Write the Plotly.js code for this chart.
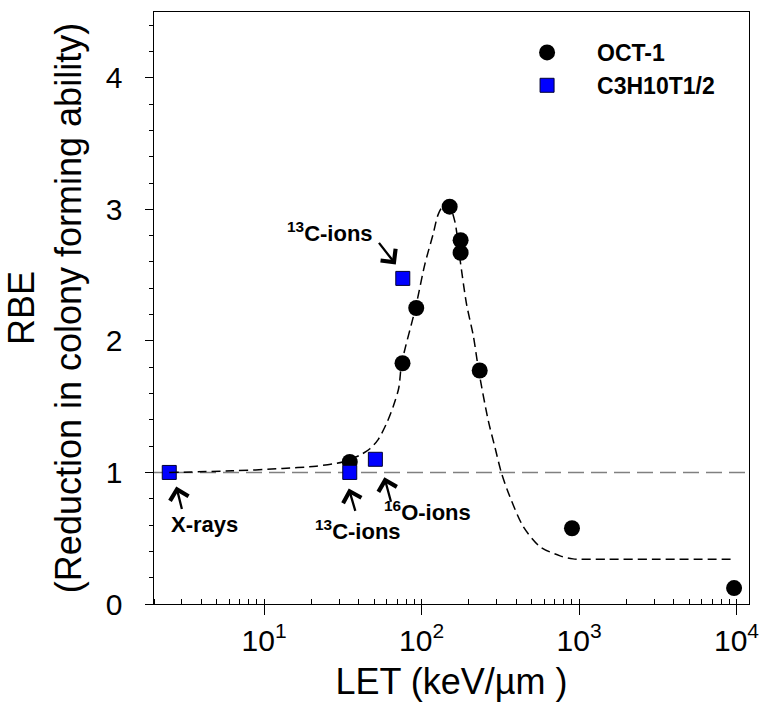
<!DOCTYPE html>
<html><head><meta charset="utf-8">
<script src="https://cdn.plot.ly/plotly-3.0.1.min.js"></script>
<style>html,body{margin:0;padding:0;background:#fff}</style>
</head><body><div id="chart" style="width:762px;height:719px"></div>
<script>
// OCT-1 data
const octLET = [35, 75.7, 92.5, 150.8, 177, 177, 234, 902, 9650];
const octRBE = [1.08, 1.83, 2.25, 3.02, 2.765, 2.67, 1.775, 0.576, 0.121];
// C3H10T1/2 data
const c3hLET = [2.5, 35, 50.9, 76];
const c3hRBE = [1.0, 1.0, 1.10, 2.475];
// dashed fitted curve
const fitLET = [2.5, 6.3, 13.1, 21.4, 31.6, 40.4, 47, 53, 59.8, 66, 71.6, 74.8, 91.5, 104.8, 118.3, 127.4, 137, 149, 162.5, 175, 193, 213, 231, 265, 292.6, 322.7, 364, 442.6, 565, 758, 916, 1500, 3000, 9800];
const fitRBE = [1.0, 1.012, 1.03, 1.048, 1.08, 1.13, 1.18, 1.25, 1.37, 1.5, 1.64, 1.83, 2.25, 2.58, 2.81, 2.96, 3.025, 3.03, 2.91, 2.63, 2.28, 2.04, 1.77, 1.396, 1.19, 0.99, 0.815, 0.588, 0.436, 0.366, 0.343, 0.34, 0.34, 0.34];
// reference level
const refRBE = 1;
// ticks
const xTickVals = [10, 100, 1000, 10000];
const xTickText = ['10<sup>1</sup>', '10<sup>2</sup>', '10<sup>3</sup>', '10<sup>4</sup>'];
const yTickVals = [0, 1, 2, 3, 4];
const yTickText = ['0', '1', '2', '3', '4'];
// labels
const labelText = ['X-rays', '<sup>13</sup>C-ions', '<sup>16</sup>O-ions', '<sup>13</sup>C-ions'];
const labelPoint = [0, 1, 2, 3]; // index into C3H10T1/2 points

const FONT = 'Liberation Sans, Arial, sans-serif';
const PAD = '\u00a0\u00a0';

const traces = [
  {x: octLET, y: octRBE, type: 'scatter', mode: 'markers', name: 'OCT-1',
   marker: {symbol: 'circle', size: 16, color: '#000000', line: {width: 0}}},
  {x: c3hLET, y: c3hRBE, type: 'scatter', mode: 'markers', name: 'C3H10T1/2',
   marker: {symbol: 'square', size: 14, color: '#0000FF', line: {width: 1, color: '#000033'}}},
  {x: fitLET, y: fitRBE, type: 'scatter', mode: 'lines', showlegend: false, hoverinfo: 'skip',
   line: {color: '#000000', width: 1.5, dash: '9px,5px', shape: 'spline', smoothing: 0.8}}
];

// placement of labels relative to their point (pixels)
const labelCfg = [
  {tx: 35, ty: -52, hx: 7, hy: -14, ax: 6, ay: 24},
  {tx: 8, ty: -58, hx: -1, hy: -16, ax: 7, ay: 24},
  {tx: 52, ty: -52, hx: 9, hy: -18, ax: 7, ay: 26},
  {tx: -73, ty: 46, hx: -7, hy: 14, ax: -18, ay: -23}
];
const annotations = [];
labelText.forEach((t, i) => {
  const p = labelPoint[i];
  const c = labelCfg[i];
  const xl = Math.log10(c3hLET[p]);
  const yv = c3hRBE[p];
  annotations.push({x: xl, y: yv, xref: 'x', yref: 'y', text: '<b>' + t + '</b>', showarrow: false,
    xshift: c.tx, yshift: c.ty, font: {family: FONT, size: 22, color: '#000'}});
  annotations.push({x: xl, y: yv, xref: 'x', yref: 'y', text: '', showarrow: true,
    xshift: c.hx, yshift: c.hy, ax: c.ax, ay: c.ay, arrowhead: 4, arrowsize: 1.6, arrowwidth: 2.3,
    arrowcolor: '#000', font: {size: 1}});
});

const layout = {
  width: 762, height: 719,
  margin: {l: 154, r: 13, t: 12, b: 115},
  paper_bgcolor: '#fff', plot_bgcolor: '#fff',
  font: {family: FONT, color: '#000'},
  showlegend: true,
  legend: {x: 0.5766, y: 0.968, xanchor: 'left', yanchor: 'top', bgcolor: 'rgba(0,0,0,0)',
    font: {family: FONT, size: 23, weight: 'bold', color: '#000'}, itemwidth: 90, tracegroupgap: 0},
  xaxis: {type: 'log', range: [Math.log10(2), Math.log10(12000)],
    tickvals: xTickVals, ticktext: xTickText, ticks: 'outside', ticklen: 10, tickwidth: 1, tickcolor: '#000',
    minor: {ticks: 'inside', ticklen: 5, tickwidth: 1, tickcolor: '#000', dtick: 'D1'},
    showgrid: false, zeroline: false, showline: true, linecolor: '#000', linewidth: 1, mirror: true,
    tickfont: {family: FONT, size: 30, color: '#000'},
    title: {text: 'LET (keV/µm )', font: {family: FONT, size: 36, color: '#000'}, standoff: 12}},
  yaxis: {range: [0, 4.5], tickvals: yTickVals, ticktext: yTickText.map(s => s + PAD), ticks: 'outside', ticklen: 8, tickwidth: 1, tickcolor: '#000',
    minor: {ticks: 'outside', ticklen: 4, tickwidth: 1, tickcolor: '#000', dtick: 0.2},
    showgrid: false, zeroline: false, showline: true, linecolor: '#000', linewidth: 1, mirror: true,
    tickfont: {family: FONT, size: 30, color: '#000'},
    title: {text: 'RBE<br>(Reduction in colony forming ability)', font: {family: FONT, size: 36, color: '#000'}, standoff: 13}},
  shapes: [{type: 'line', xref: 'paper', x0: 0, x1: 1, yref: 'y', y0: refRBE, y1: refRBE, layer: 'below',
    line: {color: '#808080', width: 1.5, dash: '16px,7px'}}],
  annotations: annotations
};

Plotly.newPlot('chart', traces, layout, {displayModeBar: false, staticPlot: true});
</script></body></html>
